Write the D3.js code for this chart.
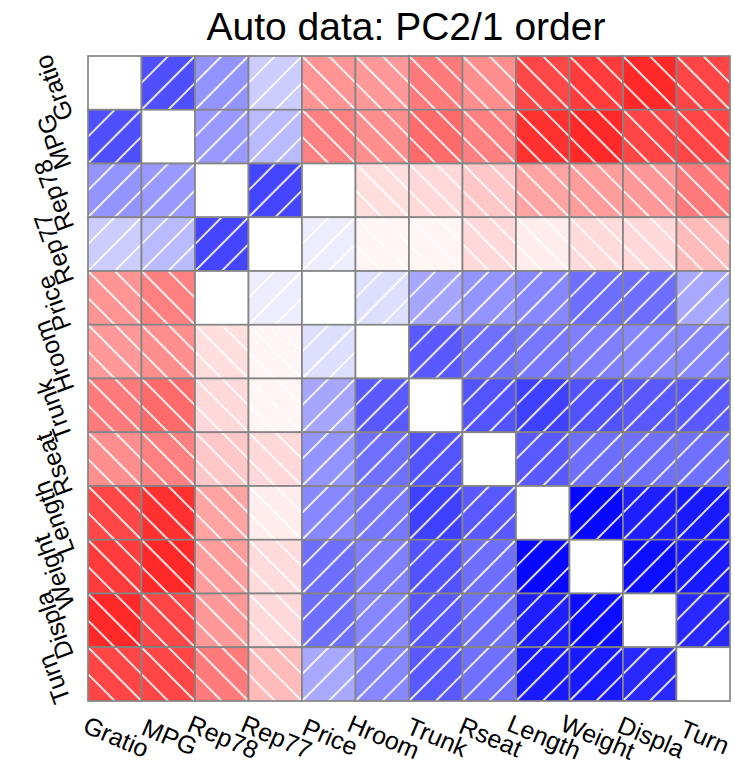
<!DOCTYPE html>
<html>
<head>
<meta charset="utf-8">
<script src="https://cdn.jsdelivr.net/npm/d3@7"></script>
<style>
body { margin: 0; background: #fff; }
text { font-family: "Liberation Sans", Arial, sans-serif; fill: #000; }
</style>
</head>
<body>
<div id="chart"></div>
<script>
const vars = ["Gratio","MPG","Rep78","Rep77","Price","Hroom","Trunk","Rseat","Length","Weight","Displa","Turn"]

// upper triangle: each array holds r with the variables to its right
const rGratio = [0.69, 0.42, 0.20, -0.42, -0.40, -0.52, -0.44, -0.72, -0.77, -0.84, -0.73]
const rMPG    = [0.40, 0.27, -0.50, -0.44, -0.58, -0.50, -0.81, -0.84, -0.73, -0.73]
const rRep78  = [0.73, 0.00, -0.13, -0.15, -0.22, -0.36, -0.39, -0.40, -0.52]
const rRep77  = [0.07, -0.04, -0.04, -0.15, -0.07, -0.14, -0.15, -0.27]
const rPrice  = [0.13, 0.35, 0.42, 0.47, 0.57, 0.57, 0.34]
const rHroom  = [0.65, 0.56, 0.53, 0.50, 0.47, 0.47]
const rTrunk  = [0.67, 0.75, 0.68, 0.65, 0.65]
const rRseat  = [0.65, 0.57, 0.56, 0.56]
const rLength = [0.97, 0.88, 0.90]
const rWeight = [0.95, 0.90]
const rDispla = [0.84]

const upper = [rGratio, rMPG, rRep78, rRep77, rPrice, rHroom, rTrunk, rRseat, rLength, rWeight, rDispla, []]

const width = 735, height = 767
const grid = {left: 88, right: 730, top: 56, bottom: 701}

// symmetric matrix, diagonal left empty
let cells = []
vars.forEach(function(a, i) {
    vars.forEach(function(b, j) {
        let r = null
        if (j > i) r = upper[i][j - i - 1]
        if (j < i) r = upper[j][i - j - 1]
        cells.push({row: a, col: b, r: r})
    })
})

const svg = d3.select("#chart").append("svg").attr("width", width).attr("height", height)

const x = d3.scaleBand().domain(vars).range([grid.left, grid.right])
const y = d3.scaleBand().domain(vars).range([grid.top, grid.bottom])
const color = d3.scaleLinear().domain([-1, 0, 1]).range(["#ff0000", "#ffffff", "#0000ff"])

const w = x.bandwidth(), h = y.bandwidth()

svg.append("text")
    .attr("x", 406)
    .attr("y", 40)
    .attr("text-anchor", "middle")
    .style("font-size", "39px")
    .text("Auto data: PC2/1 order")

const cell = svg.append("g").selectAll("g")
    .data(cells)
    .enter()
    .append("g")
    .attr("transform", d => "translate(" + x(d.col) + "," + y(d.row) + ")")

cell.append("rect")
    .attr("width", w)
    .attr("height", h)
    .attr("fill", d => d.r === null ? "#fff" : color(d.r))

// hatching: "/" for positive, "\" for negative
function hatch(d) {
    if (d.r > 0) {
        return [[0, h, w, 0], [0, h / 2, w / 2, 0], [w / 2, h, w, h / 2]]
    }
    return [[0, 0, w, h], [w / 2, 0, w, h / 2], [0, h / 2, w / 2, h]]
}

cell.filter(d => d.r !== null)
    .selectAll("line")
    .data(d => hatch(d))
    .enter()
    .append("line")
    .attr("x1", l => l[0]).attr("y1", l => l[1])
    .attr("x2", l => l[2]).attr("y2", l => l[3])
    .attr("stroke", "#fff")
    .attr("stroke-opacity", 0.85)
    .attr("stroke-width", 2)

cell.append("rect")
    .attr("width", w)
    .attr("height", h)
    .attr("fill", "none")
    .attr("stroke", "#858585")
    .attr("stroke-width", 1.7)

// variable names
svg.append("g").selectAll("text")
    .data(vars)
    .enter()
    .append("text")
    .attr("text-anchor", "middle")
    .attr("transform", d => "translate(" + (x(d) + w / 2 - 2) + ",745) rotate(23)")
    .style("font-size", "25px")
    .text(d => d)

svg.append("g").selectAll("text")
    .data(vars)
    .enter()
    .append("text")
    .attr("text-anchor", "middle")
    .attr("transform", d => "translate(62," + (y(d) + h / 2 + 2) + ") rotate(-110)")
    .style("font-size", "25px")
    .text(d => d)
</script>
</body>
</html>
